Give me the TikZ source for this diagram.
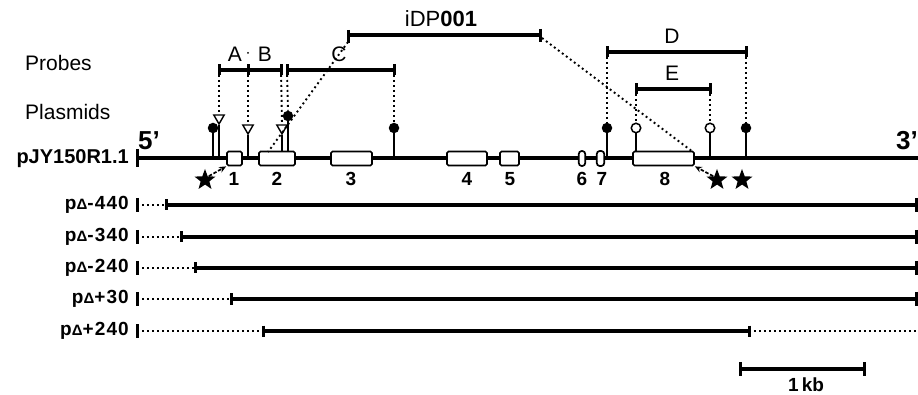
\documentclass[tikz,border=0pt]{standalone}
\usepackage{fontspec}
\setmainfont{Liberation Sans}
\usetikzlibrary{arrows.meta,shapes.geometric}
\newcommand{\smD}{{\fontsize{15}{15}\selectfont Δ}}
\begin{document}
\begin{tikzpicture}[x=1pt,y=-1pt,
  heavy/.style={line width=3.6pt},
  dotline/.style={line width=1.9pt, dash pattern=on 1.9pt off 3.1pt},
  exon/.style={draw, line width=1.7pt, fill=white, rounded corners=1.5pt, inner sep=0pt, minimum height=14pt},
  stem/.style={line width=2.4pt},
  tickmark/.style={line width=3pt},
  lbl/.style={font=\fontsize{21}{24}\selectfont, inner sep=0pt},
  blbl/.style={font=\fontsize{20}{22}\selectfont\bfseries, inner sep=0pt},
  num/.style={font=\fontsize{19}{21}\selectfont\bfseries, inner sep=0pt},
  fdot/.style={circle, fill=black, inner sep=0pt, minimum size=10.5pt},
  odot/.style={circle, draw, line width=1.5pt, fill=white, inner sep=0pt, minimum size=9.5pt},
  tri/.style={regular polygon, regular polygon sides=3, shape border rotate=180, draw, line width=1.4pt, fill=white, inner sep=0pt, minimum size=12pt},
  starnode/.style={star, star points=5, star point ratio=2.4, fill=black, inner sep=0pt, minimum size=22pt},
  arr/.style={-{Stealth[length=7pt,width=6pt]}, line width=1.7pt, dash pattern=on 3.5pt off 1.8pt},
]
\useasboundingbox (0,0) rectangle (918,395);

% ---------- left labels ----------
\node[lbl, anchor=west] (probes) at (25,63) {Probes};
\node[lbl, anchor=west] (plasmids) at (25,112) {Plasmids};
\node[blbl, anchor=east] (pjy) at (129,159) {pJY150R1.1};
\node[font=\fontsize{26}{28}\selectfont\bfseries, inner sep=0pt] (five) at (149,141) {5'};
\node[font=\fontsize{26}{28}\selectfont\bfseries, inner sep=0pt, anchor=east] (three) at (918,141) {3'};

% ---------- main line ----------
\coordinate (mL) at (137,158);
\coordinate (mR) at (918,158);
\draw[heavy] (mL) -- (mR);
\draw[tickmark] (137,149) -- (137,167);

% ---------- lollipops and triangles ----------
\node[fdot] (F1) at (213,128) {};
\node[fdot] (F2) at (288,116) {};
\node[fdot] (F3) at (394,128) {};
\node[fdot] (F4) at (607,128) {};
\node[fdot] (F5) at (746,128) {};
\node[odot] (O1) at (636,128) {};
\node[odot] (O2) at (710,128) {};
\node[tri] (T1) at (219,118) {};
\node[tri] (T2) at (248,128) {};
\node[tri] (T3) at (282,128) {};
\foreach \m in {F1,F2,F3,F4,F5}{\draw[stem] (\m.center) -- (\m.center |- mL);}
\foreach \m in {O1,O2,T1,T2,T3}{\draw[stem] (\m.south) -- (\m.south |- mL);}

% ---------- exons ----------
\node[exon, minimum width=15pt] (e1) at (234.5,158.5) {};
\node[exon, minimum width=36pt] (e2) at (277,158.5) {};
\node[exon, minimum width=41pt] (e3) at (351.5,158.5) {};
\node[exon, minimum width=40pt] (e4) at (467,158.5) {};
\node[exon, minimum width=19pt] (e5) at (509.5,158.5) {};
\node[exon, minimum width=6.5pt, minimum height=15pt, rounded corners=3pt] (e6) at (582,158.5) {};
\node[exon, minimum width=7.5pt, minimum height=15pt, rounded corners=3pt] (e7) at (600.5,158.5) {};
\node[exon, minimum width=61pt] (e8) at (663.5,158.5) {};
\foreach \n/\x in {1/234,2/277,3/351,4/467,5/510,6/582,7/602,8/665}{
  \node[num] (n\n) at (\x,179) {\n};
}

% ---------- stars ----------
\node[starnode] (s1) at (205,180) {};
\node[starnode] (s2) at (717,180) {};
\node[starnode] (s3) at (742,180) {};
\draw[arr] (s1.north east) -- (e1.south west);
\draw[arr] (s2.north west) -- (e8.south east);

% ---------- probes ----------
\coordinate (pA) at (219,70);
\coordinate (pAB) at (248,70);
\coordinate (pB) at (281,70);
\coordinate (pC1) at (287,70);
\coordinate (pC2) at (394,70);
\draw[heavy] (pA) -- (pB);
\draw[heavy] (pC1) -- (pC2);
\foreach \c in {pA,pAB,pB,pC1,pC2}{\draw[tickmark] ([yshift=5.5pt]\c) -- ([yshift=-5.5pt]\c);}
\node[lbl] (lA) at (235,54) {A};
\node[lbl] (lB) at (265,54) {B};
\node[lbl] (lC) at (339,54) {C};
\node[circle, fill=black, inner sep=0pt, minimum size=2pt] (dotAB) at (248,53) {};

\coordinate (pD1) at (607,52);
\coordinate (pD2) at (746,52);
\coordinate (pE1) at (636,89);
\coordinate (pE2) at (710,89);
\draw[heavy] (pD1) -- (pD2);
\draw[heavy] (pE1) -- (pE2);
\foreach \c in {pD1,pD2,pE1,pE2}{\draw[tickmark] ([yshift=5.5pt]\c) -- ([yshift=-5.5pt]\c);}
\node[lbl] (lD) at (672,36) {D};
\node[lbl] (lE) at (672,73) {E};

% iDP001
\coordinate (i1) at (348,35);
\coordinate (i2) at (540,35);
\draw[heavy] (i1) -- (i2);
\draw[tickmark] (348,30) -- (348,43);
\draw[tickmark] (540,29) -- (540,42);
\node[font=\fontsize{22}{24}\selectfont, inner sep=0pt] (idp) at (441,19) {iDP\textbf{001}};
\coordinate (e2tip) at (268,152);
\coordinate (e8tip) at (693,152);
\draw[dotline] (348,42) -- (e2tip);
\draw[dotline] (542,38) -- (e8tip);

% ---------- dotted verticals ----------
\draw[dotline] (pA) -- (T1.north);
\draw[dotline] (pAB) -- (T2.north);
\draw[dotline] (pB) -- (T3.north);
\draw[dotline] (pC1) -- (F2.north);
\draw[dotline] (pC2) -- (F3.north);
\draw[dotline] (pD1) -- (F4.north);
\draw[dotline] (pD2) -- (F5.north);
\draw[dotline] (pE1) -- (O1.north);
\draw[dotline] (pE2) -- (O2.north);

% ---------- deletion constructs ----------
\tikzset{dlab/.style={font=\fontsize{19}{21}\selectfont\bfseries\addfontfeature{LetterSpace=6}, inner sep=0pt, anchor=east}}
\foreach \nm/\y/\s/\lab in {m440/205/166/-440, m340/237/181/-340, m240/268/195/-240, p30/299/231/+30}{
  \node[dlab] (l\nm) at (129,\y) {p\smD\lab};
  \coordinate (a\nm) at (137,\y);
  \coordinate (b\nm) at (\s,\y);
  \coordinate (c\nm) at (916,\y);
  \draw[dotline] (a\nm) -- (b\nm);
  \draw[heavy] (b\nm) -- (c\nm);
  \draw[tickmark] ([yshift=7pt]a\nm) -- ([yshift=-7pt]a\nm);
  \draw[tickmark] ([yshift=5.5pt]b\nm) -- ([yshift=-5.5pt]b\nm);
  \draw[tickmark] ([yshift=7pt]c\nm) -- ([yshift=-7pt]c\nm);
}
\node[dlab] (lp240) at (129,331) {p\smD+240};
\coordinate (ap240) at (137,331);
\coordinate (bp240) at (263,331);
\coordinate (cp240) at (749,331);
\coordinate (dp240) at (918,331);
\draw[dotline] (ap240) -- (bp240);
\draw[heavy] (bp240) -- (cp240);
\draw[dotline] (cp240) -- (dp240);
\draw[tickmark] ([yshift=7pt]ap240) -- ([yshift=-7pt]ap240);
\draw[tickmark] ([yshift=5.5pt]bp240) -- ([yshift=-5.5pt]bp240);
\draw[tickmark] ([yshift=5.5pt]cp240) -- ([yshift=-5.5pt]cp240);

% ---------- scale bar ----------
\coordinate (k1) at (740,369);
\coordinate (k2) at (864,369);
\draw[heavy] (k1) -- (k2);
\draw[tickmark] ([yshift=7pt]k1) -- ([yshift=-7pt]k1);
\draw[tickmark] ([yshift=7pt]k2) -- ([yshift=-7pt]k2);
\node[font=\fontsize{19}{21}\selectfont\bfseries, inner sep=0pt] (kb) at (806,385) {1\,kb};
\end{tikzpicture}
\end{document}
